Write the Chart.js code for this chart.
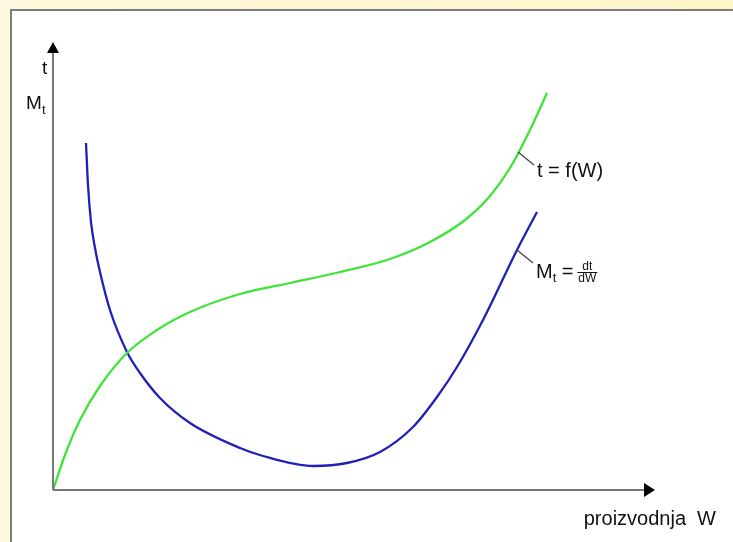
<!DOCTYPE html>
<html>
<head>
<meta charset="utf-8">
<script src="https://cdn.jsdelivr.net/npm/chart.js@4"></script>
<style>
  html, body { margin:0; padding:0; width:733px; height:542px; overflow:hidden;
    background: linear-gradient(90deg, #fefadf 0%, #fdf4c8 100%); }
  #panel { position:absolute; left:10px; top:9px; width:723px; height:533px;
    background:#ffffff; border-left:2px solid #7d7d7d; border-top:2px solid #7d7d7d; box-sizing:border-box; }
  #c { position:absolute; left:0; top:0; }
</style>
</head>
<body>
<div id="panel"></div>
<canvas id="c" width="733" height="542"></canvas>
<script>
// Production W (x) and values (arbitrary units)
const totalW = [0, 12, 27, 47, 74, 104, 137, 187, 237, 287, 337, 377, 412, 437, 457, 477, 494];
const totalT = [0, 35, 70, 104, 137, 160, 178, 196, 207, 218, 231, 248, 270, 294, 322, 360, 397];
const margW  = [33, 35, 38, 42, 47, 57, 74, 87, 107, 137, 187, 210, 260, 294, 327, 360, 384, 404, 430, 464, 484];
const margM  = [347, 305, 268, 242, 218, 180, 138, 117, 92, 67, 42, 34, 24, 27, 38, 63, 93, 123, 170, 240, 278];
const xTitle = 'proizvodnja  W';
const curveLabels = ['t = f(W)', 'M_t = dt/dW'];

const pts = (xs, ys) => xs.map((x, i) => ({x, y: ys[i]}));
const FONT = '"Liberation Sans", Arial, sans-serif';

const decor = {
  id: 'decor',
  afterDraw(chart) {
    const ctx = chart.ctx, a = chart.chartArea;
    const xs = chart.scales.x, ys = chart.scales.y;
    const x0 = xs.getPixelForValue(0), y0 = ys.getPixelForValue(0);
    ctx.save();
    // axes
    ctx.strokeStyle = '#777777'; ctx.lineWidth = 2;
    ctx.beginPath(); ctx.moveTo(x0, y0); ctx.lineTo(x0, a.top + 8); ctx.stroke();
    ctx.beginPath(); ctx.moveTo(x0, y0); ctx.lineTo(a.right - 8, y0); ctx.stroke();
    ctx.fillStyle = '#000000';
    ctx.beginPath(); ctx.moveTo(x0, a.top); ctx.lineTo(x0 - 6, a.top + 11); ctx.lineTo(x0 + 6, a.top + 11); ctx.closePath(); ctx.fill();
    ctx.beginPath(); ctx.moveTo(a.right, y0); ctx.lineTo(a.right - 11, y0 - 7); ctx.lineTo(a.right - 11, y0 + 7); ctx.closePath(); ctx.fill();
    // axis labels
    ctx.fillStyle = '#111111';
    ctx.textBaseline = 'alphabetic';
    ctx.textAlign = 'left';
    ctx.font = '19px ' + FONT;
    ctx.fillText('t', x0 - 11, 74);
    ctx.fillText('M', x0 - 27, 109);
    ctx.font = '13px ' + FONT;
    ctx.fillText('t', x0 - 11, 114);
    ctx.font = '20px ' + FONT;
    ctx.textAlign = 'right';
    ctx.fillText(xTitle, 716, 525);
    // leader lines
    ctx.strokeStyle = '#444444'; ctx.lineWidth = 1.3;
    const g = {x: xs.getPixelForValue(465), y: ys.getPixelForValue(338)};
    const b = {x: xs.getPixelForValue(464), y: ys.getPixelForValue(240)};
    ctx.beginPath(); ctx.moveTo(g.x, g.y); ctx.lineTo(g.x + 16, g.y + 13); ctx.stroke();
    ctx.beginPath(); ctx.moveTo(b.x, b.y); ctx.lineTo(b.x + 16, b.y + 13); ctx.stroke();
    ctx.textAlign = 'left';
    ctx.fillStyle = '#111111';
    ctx.fillText(curveLabels[0], g.x + 19, g.y + 25);
    // M_t = dt/dW
    let tx = b.x + 19, ty = b.y + 28;
    ctx.fillText('M', tx, ty);
    let w = ctx.measureText('M').width;
    ctx.font = '13px ' + FONT;
    ctx.fillText('t', tx + w, ty + 4);
    ctx.font = '20px ' + FONT;
    ctx.fillText('=', tx + w + 9, ty);
    const fx = tx + w + 9 + ctx.measureText('=').width + 5;
    ctx.font = '12px ' + FONT;
    ctx.textAlign = 'center';
    const fw = ctx.measureText('dW').width;
    ctx.fillText('dt', fx + fw / 2, ty - 8);
    ctx.fillText('dW', fx + fw / 2, ty + 4);
    ctx.strokeStyle = '#111111'; ctx.lineWidth = 1;
    ctx.beginPath(); ctx.moveTo(fx - 1, ty - 5.5); ctx.lineTo(fx + fw + 1, ty - 5.5); ctx.stroke();
    ctx.restore();
  }
};

new Chart(document.getElementById('c'), {
  type: 'scatter',
  data: {
    datasets: [
      { label: 't', data: pts(totalW, totalT), showLine: true, borderColor: '#3ee43a',
        borderWidth: 2.3, pointRadius: 0, cubicInterpolationMode: 'monotone', fill: false },
      { label: 'Mt', data: pts(margW, margM), showLine: true, borderColor: '#2020b8',
        borderWidth: 2.3, pointRadius: 0, cubicInterpolationMode: 'monotone', fill: false }
    ]
  },
  options: {
    responsive: false,
    animation: false,
    layout: { padding: { left: 53, right: 78, top: 42, bottom: 52 } },
    scales: {
      x: { type: 'linear', min: 0, max: 602, display: false },
      y: { type: 'linear', min: 0, max: 448, display: false }
    },
    plugins: { legend: { display: false }, tooltip: { enabled: false } }
  },
  plugins: [decor]
});
</script>
</body>
</html>
